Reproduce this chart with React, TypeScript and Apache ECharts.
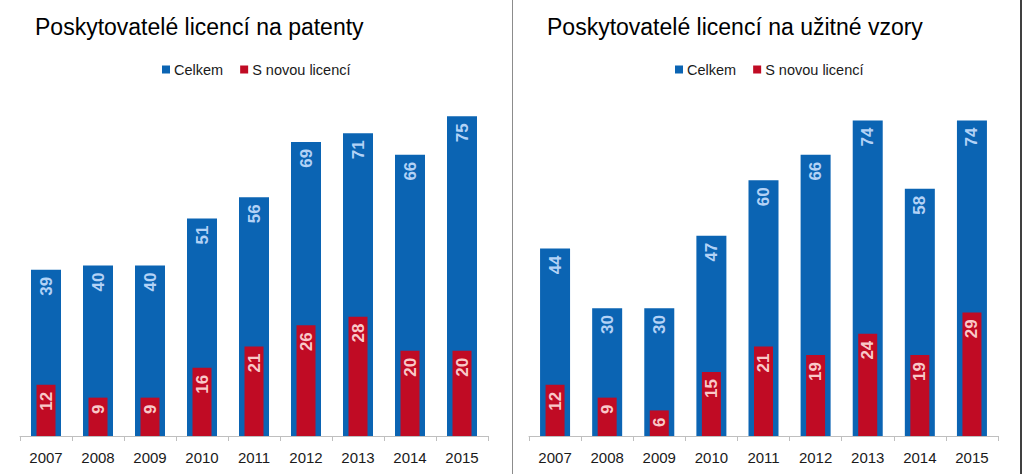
import React, { useEffect, useRef } from "react";
import * as echarts from "echarts";

const years = ["2007", "2008", "2009", "2010", "2011", "2012", "2013", "2014", "2015"];
const patentyCelkem = [39, 40, 40, 51, 56, 69, 71, 66, 75];
const patentyNove = [12, 9, 9, 16, 21, 26, 28, 20, 20];
const vzoryCelkem = [44, 30, 30, 47, 60, 66, 74, 58, 74];
const vzoryNove = [12, 9, 6, 15, 21, 19, 24, 19, 29];
const titles = ["Poskytovatelé licencí na patenty", "Poskytovatelé licencí na užitné vzory"];
const seriesNames = ["Celkem", "S novou licencí"];

const BLUE = "#0b64b3";
const RED = "#c00b24";
const FONT = "'Liberation Sans', Arial, sans-serif";

export default function App() {
  const ref = useRef<HTMLDivElement>(null);
  useEffect(() => {
    document.body.style.margin = "0";
    const chart = echarts.init(ref.current!, null, { renderer: "svg" });
    const grids = [
      { left: 20, width: 468, top: 95, bottom: 38 },
      { left: 529, width: 469, top: 95, bottom: 38 },
    ];
    const xAxes: any[] = [];
    const yAxes: any[] = [];
    const series: any[] = [];
    const data = [
      [patentyCelkem, patentyNove],
      [vzoryCelkem, vzoryNove],
    ];
    const labelBase = {
      show: true,
      position: "insideTop",
      rotate: 90,
      align: "right",
      verticalAlign: "middle",
      distance: 7,
      fontSize: 17,
      fontWeight: "bold",
      fontFamily: FONT,
    };
    grids.forEach((g, gi) => {
      xAxes.push({
        type: "category",
        gridIndex: gi,
        data: years,
        axisLine: { lineStyle: { color: "#bfbfbf", width: 1 } },
        axisTick: { show: true, length: 5, lineStyle: { color: "#bfbfbf" } },
        axisLabel: { color: "#1a1a1a", fontSize: 15, fontFamily: FONT, margin: 14 },
      });
      xAxes.push({ type: "category", gridIndex: gi, data: years, show: false });
      yAxes.push({ type: "value", gridIndex: gi, min: 0, max: 80, show: false, splitLine: { show: false } });
      const [tot, nov] = data[gi];
      series.push({
        type: "bar",
        name: seriesNames[0],
        xAxisIndex: gi * 2,
        yAxisIndex: gi,
        data: tot,
        barWidth: 30,
        itemStyle: { color: BLUE },
        label: { ...labelBase, color: "#b3d2f6" },
      });
      series.push({
        type: "bar",
        name: seriesNames[1],
        xAxisIndex: gi * 2 + 1,
        yAxisIndex: gi,
        data: nov,
        barWidth: 19,
        itemStyle: { color: RED },
        label: { ...labelBase, color: "#f9c9c9" },
      });
    });
    const titleStyle = { fontSize: 23, fontWeight: "normal", color: "#000", fontFamily: FONT };
    const legendBase = {
      top: 57,
      itemWidth: 8,
      itemHeight: 8,
      itemGap: 17,
      icon: "rect",
      textStyle: { fontSize: 14.5, fontFamily: FONT, color: "#1a1a1a", padding: [0, 0, 0, -1] },
      data: seriesNames,
      selectedMode: false,
    };
    chart.setOption({
      animation: false,
      backgroundColor: "#ffffff",
      title: [
        { text: titles[0], left: 30, top: 10, textStyle: titleStyle },
        { text: titles[1], left: 542, top: 10, textStyle: titleStyle },
      ],
      legend: [
        { ...legendBase, left: 157 },
        { ...legendBase, left: 670 },
      ],
      grid: grids,
      xAxis: xAxes,
      yAxis: yAxes,
      series,
      graphic: [
        { type: "line", shape: { x1: 512.5, y1: 0, x2: 512.5, y2: 474 }, style: { stroke: "#8c8c8c", lineWidth: 1 } },
        { type: "line", shape: { x1: 1021, y1: 0, x2: 1021, y2: 474 }, style: { stroke: "#000", lineWidth: 1.5 } },
      ],
    });
    return () => chart.dispose();
  }, []);
  return <div ref={ref} style={{ width: 1023, height: 474 }} />;
}
